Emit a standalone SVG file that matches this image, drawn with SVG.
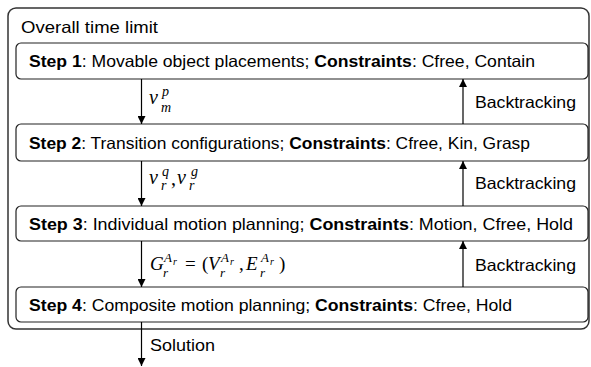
<svg xmlns="http://www.w3.org/2000/svg" width="591" height="367" viewBox="0 0 591 367">
<defs>
<marker id="ah" viewBox="0 0 10 10" refX="10" refY="5" markerWidth="9" markerHeight="8" markerUnits="userSpaceOnUse" orient="auto">
<path d="M0,0 L10,5 L0,10 z" fill="#000"/>
</marker>
<style>
.t{font-family:"Liberation Sans",Arial,sans-serif;font-size:16.5px;fill:#000}
.b{font-weight:bold}
.box{fill:#fff;stroke:#222;stroke-width:1.2}
.outer{fill:none;stroke:#333;stroke-width:1.5}
.m{font-family:"Liberation Serif","Times New Roman",serif;font-style:italic;fill:#000}
.n{font-style:normal}
.c{stroke:#000;stroke-width:1.2;fill:none;marker-end:url(#ah)}
</style>
</defs>
<rect width="591" height="367" fill="#fff"/>
<g id="outer">
<rect class="outer" x="8" y="8" width="581" height="321" rx="8"/>
<text class="t" x="21" y="33" textLength="137" lengthAdjust="spacingAndGlyphs">Overall time limit</text>
</g>
<g id="step1">
<rect class="box" x="16" y="43" width="572" height="36" rx="5"/>
<text class="t" x="29" y="67" textLength="506" lengthAdjust="spacingAndGlyphs"><tspan class="b">Step 1</tspan>: Movable object placements; <tspan class="b">Constraints</tspan>: Cfree, Contain</text>
</g>
<g id="step2">
<rect class="box" x="16" y="124" width="572" height="37" rx="5"/>
<text class="t" x="29" y="149" textLength="501" lengthAdjust="spacingAndGlyphs"><tspan class="b">Step 2</tspan>: Transition configurations; <tspan class="b">Constraints</tspan>: Cfree, Kin, Grasp</text>
</g>
<g id="step3">
<rect class="box" x="16" y="206" width="572" height="35" rx="5"/>
<text class="t" x="29" y="230" textLength="544" lengthAdjust="spacingAndGlyphs"><tspan class="b">Step 3</tspan>: Individual motion planning; <tspan class="b">Constraints</tspan>: Motion, Cfree, Hold</text>
</g>
<g id="step4">
<rect class="box" x="16" y="287" width="572" height="35" rx="5"/>
<text class="t" x="29" y="311" textLength="483" lengthAdjust="spacingAndGlyphs"><tspan class="b">Step 4</tspan>: Composite motion planning; <tspan class="b">Constraints</tspan>: Cfree, Hold</text>
</g>
<g id="connectors">
<line class="c" x1="141.5" y1="79" x2="141.5" y2="124"/>
<line class="c" x1="141.5" y1="161" x2="141.5" y2="206"/>
<line class="c" x1="141.5" y1="241" x2="141.5" y2="287"/>
<line class="c" x1="141.5" y1="322" x2="141.5" y2="366"/>
<line class="c" x1="463" y1="124" x2="463" y2="79"/>
<line class="c" x1="463" y1="206" x2="463" y2="161"/>
<line class="c" x1="463" y1="287" x2="463" y2="241"/>
<text class="t" x="475" y="108" textLength="101" lengthAdjust="spacingAndGlyphs">Backtracking</text>
<text class="t" x="475" y="189" textLength="101" lengthAdjust="spacingAndGlyphs">Backtracking</text>
<text class="t" x="475" y="271" textLength="101" lengthAdjust="spacingAndGlyphs">Backtracking</text>
<text class="t" x="150" y="351" textLength="65" lengthAdjust="spacingAndGlyphs">Solution</text>
<g id="lbl1">
<text class="m" x="149" y="104" font-size="20">v</text>
<text class="m" x="162" y="96" font-size="14">p</text>
<text class="m" x="161" y="112" font-size="14">m</text>
</g>
<g id="lbl2">
<text class="m" x="149" y="184" font-size="20">v</text>
<text class="m" x="162" y="176" font-size="14">q</text>
<text class="m" x="161" y="190" font-size="14">r</text>
<text class="m n" x="171" y="185" font-size="20">,</text>
<text class="m" x="177" y="184" font-size="20">v</text>
<text class="m" x="191" y="176" font-size="14">g</text>
<text class="m" x="189" y="190" font-size="14">r</text>
</g>
<g id="lbl3">
<text class="m" x="150" y="270" font-size="19">G</text>
<text class="m" x="164" y="262" font-size="13">A</text>
<text class="m" x="173" y="265" font-size="10">r</text>
<text class="m" x="163" y="277" font-size="13">r</text>
<text class="m n" x="185" y="270" font-size="19">=</text>
<text class="m n" x="202" y="270" font-size="19">(</text>
<text class="m" x="208" y="270" font-size="19">V</text>
<text class="m" x="221" y="262" font-size="13">A</text>
<text class="m" x="230" y="265" font-size="10">r</text>
<text class="m" x="220" y="277" font-size="13">r</text>
<text class="m n" x="239" y="270" font-size="19">,</text>
<text class="m" x="246" y="270" font-size="19">E</text>
<text class="m" x="261" y="262" font-size="13">A</text>
<text class="m" x="270" y="265" font-size="10">r</text>
<text class="m" x="260" y="277" font-size="13">r</text>
<text class="m n" x="279" y="270" font-size="19">)</text>
</g>
</g>
</svg>
